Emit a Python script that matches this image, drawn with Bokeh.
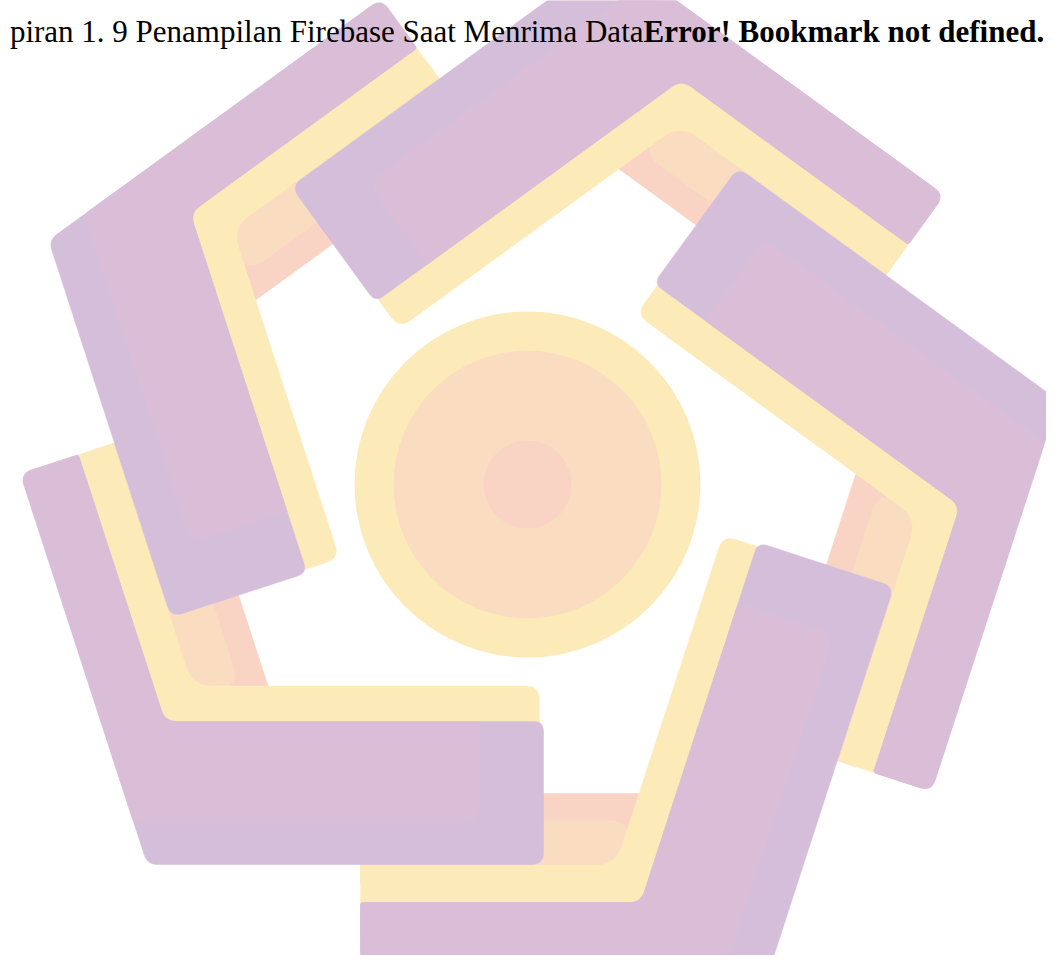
import math
from bokeh.plotting import figure
from bokeh.models import Range1d
from bokeh.embed import file_html
from bokeh.resources import INLINE
from bokeh.core.properties import value

# ---------------- data ----------------
caption_regular = "piran 1. 9 Penampilan Firebase Saat Menrima Data"
caption_bold = "Error! Bookmark not defined."

# logo centre and concentric disc radii (px)
center_x = 527
center_y = 484
ring_radii = [173, 134, 44]
ring_colors = ["#FCEBB9", "#FADDC0", "#F9D3C4"]

# the five arms of the pinwheel (rotation, degrees)
arm_angles = [0, 72, 144, 216, 288]

# first leg: distance of band edges from the centre
leg1_purple = [418, 479]
leg1_yellow = [381, 470]
leg1_peach = [336, 400]
leg1_salmon = [309, 345]
leg1_free_end = -167

# second leg: distance of band edges from the centre and end positions
leg2_purple = [237, 380]
leg2_pink = [237, 338]
leg2_yellow = [201.6, 372]
leg2_end_purple = 16
leg2_end_pink = -48
leg2_end_yellow = 12
peach_end = 205
salmon_end = 240

purple_blue = "#D5BEDA"
purple_pink = "#DABED7"
yellow = "#FCEBB9"
peach = "#FADDC0"
salmon = "#F9D3C4"

caption_size = 31
caption_split = 643
caption_baseline = 31

# ---------------- geometry helpers ----------------
C18, S18 = math.cos(math.radians(18)), math.sin(math.radians(18))
N2 = (C18, S18)
D2 = (S18, -C18)


def inter(v, c):
    return ((c - S18 * v) / C18, v)


def leg2(c, s):
    return (c * N2[0] + s * D2[0], c * N2[1] + s * D2[1])


def rounded(pts, radii, steps=10):
    out = []
    n = len(pts)
    for i in range(n):
        px, py = pts[i]
        r = radii[i]
        if r <= 0:
            out.append((px, py))
            continue
        ax, ay = pts[i - 1]
        bx, by = pts[(i + 1) % n]
        ux, uy = ax - px, ay - py
        la = math.hypot(ux, uy)
        ux, uy = ux / la, uy / la
        wx, wy = bx - px, by - py
        lb = math.hypot(wx, wy)
        wx, wy = wx / lb, wy / lb
        ang = math.acos(max(-1.0, min(1.0, ux * wx + uy * wy)))
        t = r / math.tan(ang / 2)
        t = min(t, la * 0.45, lb * 0.45)
        p1 = (px + ux * t, py + uy * t)
        p2 = (px + wx * t, py + wy * t)
        for k in range(steps + 1):
            f = k / steps
            x = (1 - f) ** 2 * p1[0] + 2 * (1 - f) * f * px + f * f * p2[0]
            y = (1 - f) ** 2 * p1[1] + 2 * (1 - f) * f * py + f * f * p2[1]
            out.append((x, y))
    return out


def place(pts, deg):
    a = math.radians(deg)
    ca, sa = math.cos(a), math.sin(a)
    xs = [center_x + u * ca - v * sa for u, v in pts]
    ys = [center_y + u * sa + v * ca for u, v in pts]
    return xs, ys


U0 = leg1_free_end
purple_shape = rounded(
    [(U0, leg1_purple[1]), inter(leg1_purple[1], leg2_purple[1]),
     leg2(leg2_purple[1], leg2_end_purple), leg2(leg2_purple[0], leg2_end_purple),
     inter(leg1_purple[0], leg2_purple[0]), (U0, leg1_purple[0])],
    [12, 14, 12, 10, 16, 3])
pink_shape = rounded(
    [(U0, leg1_purple[1]), inter(leg1_purple[1], leg2_pink[1]),
     leg2(leg2_pink[1], leg2_end_pink), leg2(leg2_pink[0], leg2_end_pink),
     inter(leg1_purple[0], leg2_pink[0]), (U0, leg1_purple[0])],
    [12, 8, 18, 0, 16, 3])
yellow_shape = rounded(
    [(U0, leg1_yellow[1] - 8), inter(leg1_yellow[1], leg2_yellow[1]),
     leg2(leg2_yellow[1], leg2_end_yellow), leg2(leg2_yellow[0], leg2_end_yellow),
     inter(leg1_yellow[0], leg2_yellow[0]), (U0, leg1_yellow[0])],
    [6, 0, 10, 14, 28, 2])
peach_shape = rounded(
    [(U0, leg1_peach[1]), inter(leg1_peach[1], peach_end),
     inter(leg1_peach[0], peach_end), (U0, leg1_peach[0])],
    [0, 0, 20, 0])
salmon_shape = rounded(
    [(U0, leg1_salmon[1]), inter(leg1_salmon[1], salmon_end),
     inter(leg1_salmon[0], salmon_end), (U0, leg1_salmon[0])],
    [0, 0, 0, 0])

# ---------------- figure ----------------
W, H = 1046, 955
p = figure(width=W, height=H, x_range=Range1d(0, W), y_range=Range1d(H, 0),
           output_backend="svg", toolbar_location=None, min_border=0)
p.axis.visible = False
p.grid.visible = False
p.outline_line_color = None
p.background_fill_color = "white"
p.border_fill_color = "white"

for shape, col in [(salmon_shape, salmon), (peach_shape, peach), (yellow_shape, yellow),
                   (purple_shape, purple_blue), (pink_shape, purple_pink)]:
    xs, ys = [], []
    for ang in arm_angles:
        x, y = place(shape, ang)
        xs.append(x)
        ys.append(y)
    p.patches(xs, ys, fill_color=col, line_color=col, line_width=0.5)

for r, col in zip(ring_radii, ring_colors):
    p.circle(x=[center_x], y=[center_y], radius=r, fill_color=col, line_color=None)

p.text(x=[caption_split], y=[caption_baseline], text=[caption_regular], text_align="right",
       text_baseline="alphabetic", text_font=value("Liberation Serif"),
       text_font_size=value(f"{caption_size}px"), text_color="black")
p.text(x=[caption_split], y=[caption_baseline], text=[caption_bold], text_align="left",
       text_baseline="alphabetic", text_font=value("Liberation Serif"),
       text_font_size=value(f"{caption_size}px"), text_font_style="bold", text_color="black")

open("out.html", "w").write(file_html(p, INLINE))
